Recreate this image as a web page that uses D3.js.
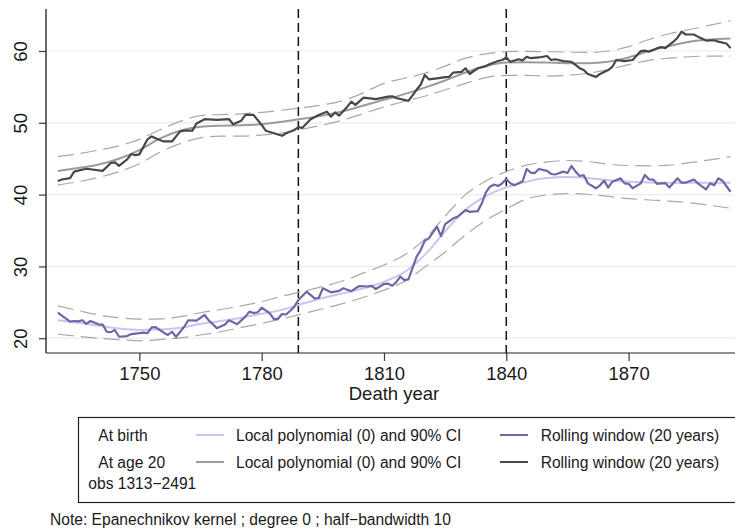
<!DOCTYPE html>
<html><head><meta charset="utf-8">
<script src="https://cdn.jsdelivr.net/npm/d3@7/dist/d3.min.js"></script>
<style>
html,body{margin:0;padding:0;background:#fff;}
svg{display:block;font-family:"Liberation Sans",Arial,Helvetica,sans-serif;}
</style></head>
<body><svg id="c" width="735" height="529"></svg>
<script>
// ---- data ----
const yTicks = [20, 30, 40, 50, 60];
const xTicks = [1750, 1780, 1810, 1840, 1870];
const vLines = [1789, 1840];

const smYears = [1730,1735,1740,1745,1750,1755,1760,1765,1770,1775,1780,1785,1790,1795,1800,1805,1810,1815,1820,1825,1830,1835,1840,1845,1850,1855,1860,1865,1870,1875,1880,1885,1890,1895];
const birthFit = [22.5,22.15,21.75,21.35,21.15,21.2,21.45,22.0,22.4,22.85,23.4,23.95,24.8,25.6,26.25,26.95,27.85,29.2,31.6,34.9,37.9,39.8,41.0,41.8,42.3,42.45,42.3,42.0,41.8,41.7,41.65,41.65,41.65,41.65];
const birthHi  = [24.5,23.85,23.25,22.85,22.65,22.7,23.0,23.55,24.0,24.5,25.1,25.85,26.5,27.2,28.0,29.1,30.2,31.6,33.8,37.0,40.0,41.9,43.2,44.1,44.55,44.75,44.6,44.25,44.05,44.0,44.1,44.45,44.85,45.3];
const birthLo  = [20.55,20.25,20.0,19.8,19.65,19.8,20.05,20.45,20.9,21.5,22.05,22.7,23.4,24.1,24.85,25.7,26.7,27.9,29.9,32.0,34.4,36.4,38.0,39.4,39.95,40.15,40.05,39.75,39.45,39.25,39.1,38.85,38.5,38.1];
const age20Fit = [43.3,43.7,44.2,45.0,46.2,47.8,48.9,49.45,49.6,49.65,49.8,50.15,50.55,51.0,51.6,52.4,53.2,54.0,54.9,55.9,57.0,57.9,58.4,58.45,58.4,58.3,58.3,58.5,59.1,60.0,60.7,61.3,61.6,61.75];
const age20Hi  = [45.3,45.7,46.2,46.8,47.7,49.0,50.2,51.0,51.15,51.25,51.45,51.75,52.1,52.5,53.1,54.2,55.5,56.2,56.9,57.9,59.0,59.6,59.9,59.95,59.9,59.85,59.8,60.0,60.6,61.6,62.4,63.0,63.6,64.2];
const age20Lo  = [41.35,41.8,42.4,43.2,44.3,45.9,47.1,47.9,48.15,48.15,48.3,48.6,49.1,49.7,50.4,51.3,52.2,53.0,53.7,54.6,55.5,56.3,56.6,56.6,56.5,56.6,56.9,57.4,58.1,58.7,59.0,59.2,59.3,59.3];

const birthRollYears = [1730,1731,1733,1734,1735,1736,1737,1738,1740,1741,1742,1743,1744,1745,1747,1748,1751,1752,1753,1754,1756,1757,1758,1759,1761,1762,1764,1766,1767,1769,1771,1772,1774,1776,1777,1778,1779,1780,1782,1783,1784,1785,1786,1787,1788,1789,1791,1793,1794,1795,1797,1799,1800,1802,1803,1804,1806,1807,1808,1810,1811,1812,1813,1814,1815,1816,1818,1819,1820,1821,1823,1824,1825,1827,1828,1830,1831,1833,1834,1835,1836,1837,1838,1839,1840,1841,1842,1844,1845,1846,1847,1848,1850,1851,1852,1854,1855,1856,1857,1858,1859,1860,1862,1863,1864,1865,1866,1868,1869,1870,1871,1873,1874,1875,1876,1877,1878,1879,1880,1882,1883,1884,1886,1887,1889,1890,1891,1892,1893,1895];
const birthRoll = [23.55,23.15,22.3,22.4,22.35,22.5,22.0,22.4,21.93,21.9,20.9,20.85,21.14,20.2,20.3,20.58,20.77,20.7,21.5,21.53,20.77,20.45,20.9,20.2,21.6,22.5,22.46,23.23,22.5,21.4,21.9,22.5,21.95,23.0,23.7,23.5,23.6,24.25,23.46,22.67,22.7,23.37,23.3,23.83,24.39,25.32,26.48,25.55,25.6,26.95,26.39,26.6,26.95,26.55,26.95,27.27,27.2,27.3,26.85,27.55,27.6,27.3,27.8,28.57,28.1,28.2,31.35,32.28,33.58,33.9,35.53,34.23,35.9,36.7,36.9,37.85,37.6,37.7,38.79,40.3,41.1,41.4,41.2,41.57,42.17,41.57,41.3,41.85,43.57,43.07,43.0,43.57,43.3,42.87,42.8,43.2,43.0,43.98,43.2,42.6,42.7,41.57,40.88,41.3,41.94,40.97,41.8,42.27,41.57,41.5,40.88,41.57,42.73,42.13,42.1,41.5,41.57,41.6,41.0,42.27,41.66,41.66,42.1,41.57,40.74,41.57,41.3,42.27,41.94,40.4];

const age20RollYears = [1730,1731,1733,1734,1737,1741,1743,1744,1745,1747,1748,1749,1750,1752,1753,1755,1756,1758,1760,1761,1763,1764,1766,1769,1772,1773,1775,1776,1778,1780,1781,1783,1785,1786,1788,1789,1790,1792,1794,1796,1797,1798,1799,1801,1802,1803,1805,1808,1811,1812,1813,1816,1818,1819,1820,1821,1823,1825,1826,1827,1829,1830,1831,1833,1835,1836,1838,1839,1840,1841,1843,1844,1845,1846,1848,1850,1851,1852,1854,1856,1858,1859,1860,1862,1863,1865,1866,1867,1869,1871,1873,1874,1875,1877,1878,1879,1881,1882,1883,1884,1886,1887,1889,1891,1892,1894,1895];
const age20Roll = [41.9,42.1,42.3,43.2,43.6,43.3,44.4,44.5,44.0,44.9,45.65,45.5,45.6,47.7,48.1,47.6,47.4,47.4,48.8,48.9,48.9,49.9,50.5,50.4,50.5,49.8,50.3,51.1,51.1,49.7,48.9,48.55,48.2,48.55,49.0,49.4,49.3,50.5,51.1,51.55,50.85,51.45,51.0,52.25,52.95,52.5,53.5,53.3,53.65,53.7,53.45,53.05,54.6,55.3,56.66,56.05,56.2,56.35,56.4,57.0,57.1,57.6,56.8,57.6,57.9,58.2,58.6,58.75,59.1,58.5,58.85,58.7,59.2,59.0,59.1,59.3,58.75,58.85,58.6,58.5,57.6,57.35,56.8,56.4,56.8,57.35,57.8,58.75,58.6,58.75,60.0,60.05,59.9,60.4,60.55,60.4,61.3,61.85,62.7,62.3,62.3,62.0,61.45,61.5,61.3,61.05,60.4];

const legendRows = ["At birth", "At age 20"];
const legendFitLabel = "Local polynomial (0) and 90% CI";
const legendRollLabel = "Rolling window (20 years)";
const obsLabel = "obs 1313\u22122491";
const xTitle = "Death year";
const noteText = "Note: Epanechnikov kernel ; degree 0 ; half\u2212bandwidth 10";

// ---- styles ----
const C = {
  birthFit: "#c9c5ec", birthRoll: "#6f66a8",
  age20Fit: "#9b9b9b", age20Roll: "#474747",
  ci: "#a8a8a8", grid: "#ececec", axis: "#3a3a3a", text: "#1a1a1a"
};
const FS = 15.6;

const svg = d3.select("#c");
const L = 46, R = 735, T = 9, B = 353;
const x = d3.scaleLinear().domain([1727.1, 1896.1]).range([L, R]);
const y = d3.scaleLinear().domain([17.94, 65.85]).range([B, T]);

// gridlines
svg.append("g").selectAll("line").data(yTicks).join("line")
  .attr("x1", L).attr("x2", R).attr("y1", d => y(d)).attr("y2", d => y(d))
  .attr("stroke", C.grid).attr("stroke-width", 1.2);

// vertical dashed lines
svg.append("g").selectAll("line").data(vLines).join("line")
  .attr("x1", d => x(d)).attr("x2", d => x(d)).attr("y1", T).attr("y2", B)
  .attr("stroke", "#111").attr("stroke-width", 1.5).attr("stroke-dasharray", "9,5");

function series(years, vals, curve) {
  return d3.line().x((d, i) => x(years[i])).y(d => y(d)).curve(curve)(vals);
}
const g = svg.append("g");
const ciStyle = p => p.attr("fill", "none").attr("stroke", C.ci).attr("stroke-width", 1.2).attr("stroke-dasharray", "16,7");
[birthHi, birthLo, age20Hi, age20Lo].forEach(arr => {
  g.append("path").attr("d", series(smYears, arr, d3.curveMonotoneX)).call(ciStyle);
});
g.append("path").attr("d", series(smYears, birthFit, d3.curveMonotoneX))
  .attr("fill", "none").attr("stroke", C.birthFit).attr("stroke-width", 2);
g.append("path").attr("d", series(smYears, age20Fit, d3.curveMonotoneX))
  .attr("fill", "none").attr("stroke", C.age20Fit).attr("stroke-width", 2);
g.append("path").attr("d", series(birthRollYears, birthRoll, d3.curveLinear))
  .attr("fill", "none").attr("stroke", C.birthRoll).attr("stroke-width", 2.2).attr("stroke-linejoin", "round");
g.append("path").attr("d", series(age20RollYears, age20Roll, d3.curveLinear))
  .attr("fill", "none").attr("stroke", C.age20Roll).attr("stroke-width", 2.2).attr("stroke-linejoin", "round");

// axes
const yAxis = svg.append("g").attr("transform", `translate(${L},0)`)
  .call(d3.axisLeft(y).tickValues(yTicks).tickSize(7).tickFormat(d3.format("d")));
yAxis.select(".domain").remove();
yAxis.selectAll(".tick line").attr("stroke", C.axis).attr("stroke-width", 1.2);
yAxis.selectAll(".tick text").attr("x", 0).attr("dy", null)
  .attr("transform", "translate(-19,0) rotate(-90)")
  .attr("text-anchor", "middle").attr("font-size", 18.5).attr("fill", C.text)
  .attr("font-family", "Liberation Sans, Arial, sans-serif");
svg.append("line").attr("x1", L).attr("x2", L).attr("y1", T).attr("y2", B)
  .attr("stroke", C.axis).attr("stroke-width", 1.5);

const xAxis = svg.append("g").attr("transform", `translate(0,${B})`)
  .call(d3.axisBottom(x).tickValues(xTicks).tickSize(8).tickFormat(d3.format("d")));
xAxis.select(".domain").remove();
xAxis.selectAll(".tick line").attr("stroke", C.axis).attr("stroke-width", 1.2);
xAxis.selectAll(".tick text").attr("y", 27).attr("dy", null)
  .attr("font-size", 18.5).attr("fill", C.text)
  .attr("font-family", "Liberation Sans, Arial, sans-serif");
svg.append("line").attr("x1", L).attr("x2", R).attr("y1", B).attr("y2", B)
  .attr("stroke", "#222").attr("stroke-width", 1.2);

svg.append("text").attr("x", 394).attr("y", 399.5).attr("text-anchor", "middle")
  .attr("font-size", 18.5).attr("fill", C.text).text(xTitle);

// legend
const lg = svg.append("g");
lg.append("rect").attr("x", 78.5).attr("y", 417.5).attr("width", 670).attr("height", 85)
  .attr("fill", "none").attr("stroke", "#222").attr("stroke-width", 1.2);
const rowY = [435, 462];
const fitCols = [C.birthFit, C.age20Fit];
const rollCols = [C.birthRoll, C.age20Roll];
legendRows.forEach((lab, i) => {
  lg.append("text").attr("x", 98.3).attr("y", rowY[i] + 6).attr("font-size", FS).attr("fill", C.text).text(lab);
  lg.append("line").attr("x1", 196).attr("x2", 224).attr("y1", rowY[i]).attr("y2", rowY[i])
    .attr("stroke", fitCols[i]).attr("stroke-width", 2);
  lg.append("text").attr("x", 236).attr("y", rowY[i] + 6).attr("font-size", FS).attr("fill", C.text).text(legendFitLabel);
  lg.append("line").attr("x1", 500).attr("x2", 528).attr("y1", rowY[i]).attr("y2", rowY[i])
    .attr("stroke", rollCols[i]).attr("stroke-width", 2);
  lg.append("text").attr("x", 540.7).attr("y", rowY[i] + 6).attr("font-size", FS).attr("fill", C.text).text(legendRollLabel);
});
lg.append("text").attr("x", 88.3).attr("y", 488.5).attr("font-size", FS).attr("fill", C.text).text(obsLabel);

svg.append("text").attr("x", 50).attr("y", 524.5).attr("font-size", FS).attr("fill", C.text).text(noteText);
</script></body></html>
